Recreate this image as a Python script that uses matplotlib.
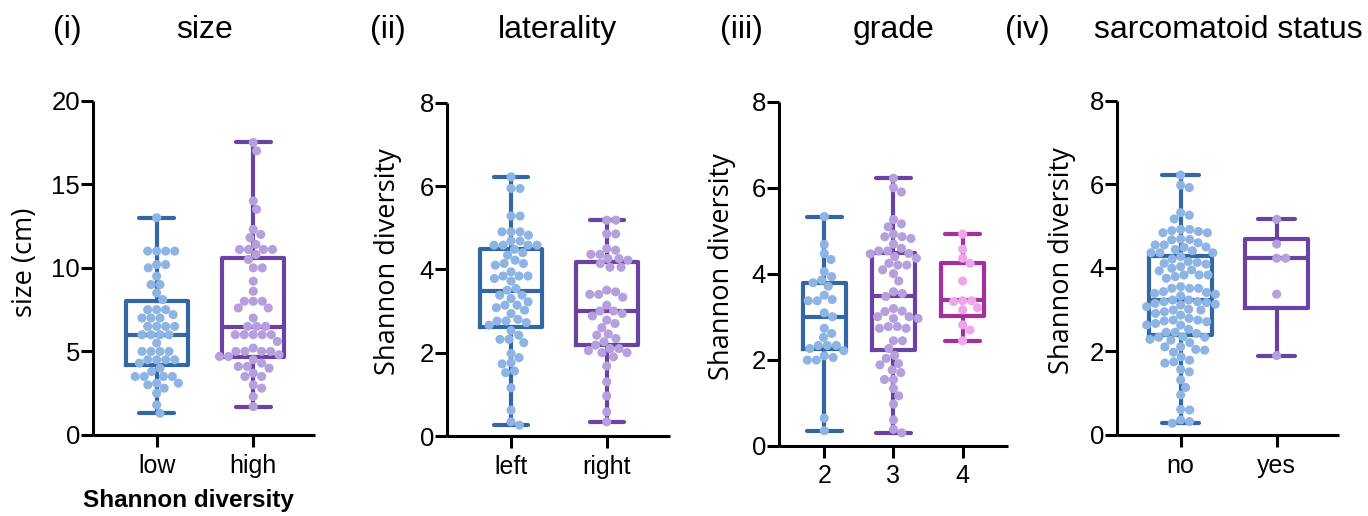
import numpy as np
import matplotlib
matplotlib.use('Agg')
import matplotlib.pyplot as plt

# ---------------- data ----------------
size_low = [13.0, 11.0, 11.0, 11.0, 11.0, 10.2, 10.2, 10.0, 9.5, 9.0, 9.0, 8.5, 8.1,
            7.5, 7.5, 7.5, 7.2, 7.0, 7.0, 7.0, 6.5, 6.5, 6.5, 6.5, 6.0, 6.0, 6.0, 6.0,
            5.5, 5.0, 5.0, 5.0, 5.0, 4.5, 4.5, 4.5, 4.5, 4.3, 4.0, 3.8, 3.5, 3.5, 3.5, 3.5,
            3.1, 3.1, 3.0, 2.8, 2.5, 1.8, 1.3]
size_high = [17.5, 17.0, 14.0, 13.5, 12.3, 12.0, 11.8, 11.4, 11.1, 11.1, 11.1, 11.1, 10.8,
             10.5, 10.0, 10.0, 9.2, 8.6, 8.0, 8.0, 8.0, 7.6, 7.6, 7.0, 6.5, 6.5, 6.5,
             6.0, 6.0, 6.0, 6.0, 6.0, 5.6, 5.2, 5.0, 5.0, 5.0, 5.0, 4.8, 4.7, 4.7, 4.5,
             4.3, 4.1, 4.1, 4.0, 3.7, 3.5, 3.5, 3.0, 2.8, 2.3, 1.7]

lat_left = [6.22, 5.94, 5.94, 5.28, 5.28, 4.9, 4.9, 4.9, 4.82, 4.68, 4.68, 4.58, 4.58, 4.58,
            4.58, 4.48, 4.4, 4.34, 4.22, 4.14, 4.14, 4.1, 3.94, 3.84, 3.84, 3.84, 3.78, 3.72,
            3.54, 3.5, 3.38, 3.38, 3.3, 3.22, 3.14, 3.14, 3.08, 3.02, 2.94, 2.8, 2.76, 2.76,
            2.72, 2.66, 2.53, 2.42, 2.32, 2.32, 2.24, 1.98, 1.88, 1.76, 1.73, 1.56, 1.52,
            1.16, 0.62, 0.34, 0.26]
lat_right = [5.18, 5.18, 4.85, 4.85, 4.5, 4.46, 4.36, 4.36, 4.26, 4.26, 4.22, 4.14, 4.05, 4.05,
             3.5, 3.46, 3.4, 3.4, 3.33, 3.14, 3.0, 3.0, 2.94, 2.88, 2.78, 2.7, 2.6, 2.45, 2.42,
             2.34, 2.26, 2.18, 2.1, 2.1, 2.05, 2.0, 2.0, 1.9, 1.68, 1.3, 0.96, 0.58, 0.34]

grade2 = [5.33, 4.68, 4.47, 4.33, 4.05, 3.93, 3.85, 3.79, 3.71, 3.5, 3.4, 3.37, 3.37, 3.09,
          3.0, 2.73, 2.61, 2.52, 2.33, 2.33, 2.33, 2.26, 2.21, 2.09, 2.05, 1.99, 1.99, 0.64, 0.35]
grade3 = [6.22, 6.0, 5.9, 5.26, 5.16, 5.09, 4.92, 4.86, 4.86, 4.82, 4.69, 4.59, 4.53, 4.53,
          4.47, 4.46, 4.4, 4.36, 4.24, 4.2, 4.2, 4.09, 4.0, 3.83, 3.58, 3.54, 3.47, 3.19, 3.13,
          3.12, 3.0, 3.0, 2.96, 2.96, 2.77, 2.77, 2.73, 2.73, 2.44, 2.44, 2.26, 2.1, 2.03,
          1.91, 1.88, 1.76, 1.7, 1.54, 1.54, 1.33, 1.16, 0.97, 0.6, 0.38, 0.3]
grade4 = [4.92, 4.57, 4.36, 4.24, 3.83, 3.37, 3.37, 3.35, 3.21, 3.16, 2.81, 2.69, 2.44]

sarc_no = [6.22, 5.98, 5.92, 5.32, 5.26, 5.17,
           4.92, 4.84, 4.84, 4.87, 4.92, 4.89,
           4.69, 4.60, 4.55, 4.67, 4.68,
           4.49, 4.36, 4.36, 4.36, 4.44, 4.41, 4.55, 4.50,
           4.15, 4.11, 4.27, 4.09, 4.21, 4.13,
           4.03, 3.95, 3.99, 3.93,
           3.83, 3.83, 3.83, 3.75, 3.79,
           3.55, 3.51, 3.51, 3.51, 3.43, 3.41, 3.39, 3.37, 3.33,
           3.23, 3.23, 3.19, 3.11, 3.13, 3.19, 3.15, 3.17,
           3.07, 2.99, 2.99, 2.87, 3.01, 2.91, 2.95,
           2.79, 2.71, 2.73, 2.63, 2.67, 2.75, 2.75, 2.63,
           2.53, 2.46, 2.43, 2.46,
           2.35, 2.34, 2.34, 2.29, 2.27, 2.21,
           2.11, 2.03, 2.11, 2.05, 1.98,
           1.87, 1.72, 1.79, 1.75,
           1.57, 1.51, 1.32, 1.14, 0.96, 0.61, 0.60, 0.28, 0.32, 0.36]
sarc_yes = [5.16, 4.57, 4.23, 4.23, 3.37, 1.9]

# box summaries (q1, median, q3, min, max)
size_box = [(4.19, 6.0, 8.0, 1.3, 13.0), (4.69, 6.48, 10.57, 1.7, 17.5)]
lat_box = [(2.62, 3.47, 4.5, 0.26, 6.22), (2.18, 3.0, 4.18, 0.34, 5.18)]
grade_box = [(2.26, 3.0, 3.79, 0.35, 5.33), (2.22, 3.47, 4.49, 0.30, 6.22),
             (3.02, 3.38, 4.26, 2.44, 4.92)]
sarc_box = [(2.39, 3.23, 4.28, 0.28, 6.22), (3.05, 4.23, 4.68, 1.9, 5.16)]

size_cats = ['low', 'high']
lat_cats = ['left', 'right']
grade_cats = ['2', '3', '4']
sarc_cats = ['no', 'yes']

panel_labels = ['(i)', '(ii)', '(iii)', '(iv)']
panel_titles = ['size', 'laterality', 'grade', 'sarcomatoid status']

# ---------------- style ----------------
BLUE, LBLUE = '#3366A5', '#8DB4E2'
PURP, LPURP = '#6A42A3', '#B59FDD'
MAG, PINK = '#A2309F', '#EFA6E8'

FONT = 'Liberation Sans'
LABFONT = 'Open Sans'

W, H = 1368, 516
fig = plt.figure(figsize=(W / 100, H / 100), dpi=100)


def rect(l, r, top, bot):
    return [l / W, (H - bot) / H, (r - l) / W, (bot - top) / H]


def swarm_x(ax, xc, vals, d):
    vals = np.asarray(vals, float)
    pts = ax.transData.transform(np.column_stack([np.full(len(vals), xc), vals]))
    x0 = pts[0, 0]
    ys = pts[:, 1]
    order = np.argsort(-ys, kind='stable')
    placed = []
    xs = np.zeros(len(vals))
    for i in order:
        y = ys[i]
        near = [(px, py) for px, py in placed if abs(py - y) < d]
        cands = [0.0]
        for px, py in near:
            dx = np.sqrt(max(d * d - (py - y) ** 2, 0))
            cands += [px + dx, px - dx]
        cands = sorted(set(np.round(cands, 6)), key=lambda c: (abs(c), -c))
        chosen = 0.0
        for c in cands:
            if all((c - px) ** 2 + (y - py) ** 2 >= d * d - 1e-3 for px, py in near):
                chosen = c
                break
        placed.append((chosen, y))
        xs[i] = x0 + chosen
    inv = ax.transData.inverted()
    return inv.transform(np.column_stack([xs, ys]))[:, 0]


panels = [
    dict(rect=rect(93.3, 315, 100.7, 435), xlim=(-0.656, 1.639), ylim=(0, 20),
         yticks=[0, 5, 10, 15, 20], cats=size_cats, groups=[size_low, size_high],
         boxes=size_box, cols=[(BLUE, LBLUE), (PURP, LPURP)], bw=0.645, cw=0.36,
         ylabel='size (cm)', ylab_xy=(25, 262)),
    dict(rect=rect(447.3, 670, 102.7, 436), xlim=(-0.666, 1.661), ylim=(0, 8),
         yticks=[0, 2, 4, 6, 8], cats=lat_cats, groups=[lat_left, lat_right],
         boxes=lat_box, cols=[(BLUE, LBLUE), (PURP, LPURP)], bw=0.645, cw=0.36,
         ylabel='Shannon diversity', ylab_xy=(388, 262)),
    dict(rect=rect(779.3, 1008, 101.7, 445.7), xlim=(-0.65, 2.655), ylim=(0, 8),
         yticks=[0, 2, 4, 6, 8], cats=grade_cats, groups=[grade2, grade3, grade4],
         boxes=grade_box, cols=[(BLUE, LBLUE), (PURP, LPURP), (MAG, PINK)], bw=0.62, cw=0.5,
         ylabel='Shannon diversity', ylab_xy=(722, 267)),
    dict(rect=rect(1117.3, 1339, 100.7, 435), xlim=(-0.66, 1.649), ylim=(0, 8),
         yticks=[0, 2, 4, 6, 8], cats=sarc_cats, groups=[sarc_no, sarc_yes],
         boxes=sarc_box, cols=[(BLUE, LBLUE), (PURP, LPURP)], bw=0.655, cw=0.38,
         ylabel='Shannon diversity', ylab_xy=(1062, 261)),
]

LW = 3.0
for p in panels:
    ax = fig.add_axes(p['rect'])
    ax.set_xlim(*p['xlim'])
    ax.set_ylim(*p['ylim'])
    for s in ['top', 'right']:
        ax.spines[s].set_visible(False)
    for s in ['left', 'bottom']:
        ax.spines[s].set_linewidth(2.2)
        ax.spines[s].set_capstyle('butt')
    pos = list(range(len(p['cats'])))
    ax.set_xticks(pos)
    ax.set_xticklabels(p['cats'], fontfamily=FONT, fontsize=18)
    ax.set_yticks(p['yticks'])
    ax.set_yticklabels([str(t) for t in p['yticks']], fontfamily=FONT, fontsize=18.5)
    ax.tick_params(axis='both', length=8.5, width=2.2, color='black')
    ax.tick_params(axis='x', pad=5)
    ax.tick_params(axis='y', pad=1)

    stats = [dict(q1=b[0], med=b[1], q3=b[2], whislo=b[3], whishi=b[4], fliers=[])
             for b in p['boxes']]
    art = ax.bxp(stats, positions=pos, widths=p['bw'], capwidths=p['cw'],
                 showfliers=False, manage_ticks=False,
                 boxprops=dict(lw=LW), medianprops=dict(lw=LW),
                 whiskerprops=dict(lw=LW), capprops=dict(lw=LW, solid_capstyle='round'))
    for i, (dark, light) in enumerate(p['cols']):
        art['boxes'][i].set_color(dark)
        art['boxes'][i].set_zorder(2)
        art['medians'][i].set_color(dark)
        art['medians'][i].set_solid_capstyle('butt')
        for k in (2 * i, 2 * i + 1):
            art['whiskers'][k].set_color(dark)
            art['caps'][k].set_color(dark)
    for i, (vals, (dark, light)) in enumerate(zip(p['groups'], p['cols'])):
        xs = swarm_x(ax, i, vals, 9.0)
        ax.scatter(xs, vals, s=43, color=light, edgecolors='none', zorder=3, clip_on=False)
    lx, ly = p['ylab_xy']
    fig.text(lx / W, 1 - ly / H, p['ylabel'], rotation=90, ha='center', va='center',
             fontfamily=LABFONT, fontsize=19.5)

# titles
lab_x = [67, 388, 741, 1027]
tit_x = [205, 558, 893, 1228]
for lx, tx, lab, tit in zip(lab_x, tit_x, panel_labels, panel_titles):
    fig.text(lx / W, 1 - 30 / H, lab, ha='center', va='center', fontfamily=FONT, fontsize=23)
    fig.text(tx / W, 1 - 30 / H, tit, ha='center', va='center', fontfamily=FONT, fontsize=23)

fig.text(188 / W, 1 - 500 / H, 'Shannon diversity', ha='center', va='center',
         fontfamily=FONT, fontsize=17.5, fontweight='bold')

fig.savefig('out.png', dpi=100, facecolor='white')
